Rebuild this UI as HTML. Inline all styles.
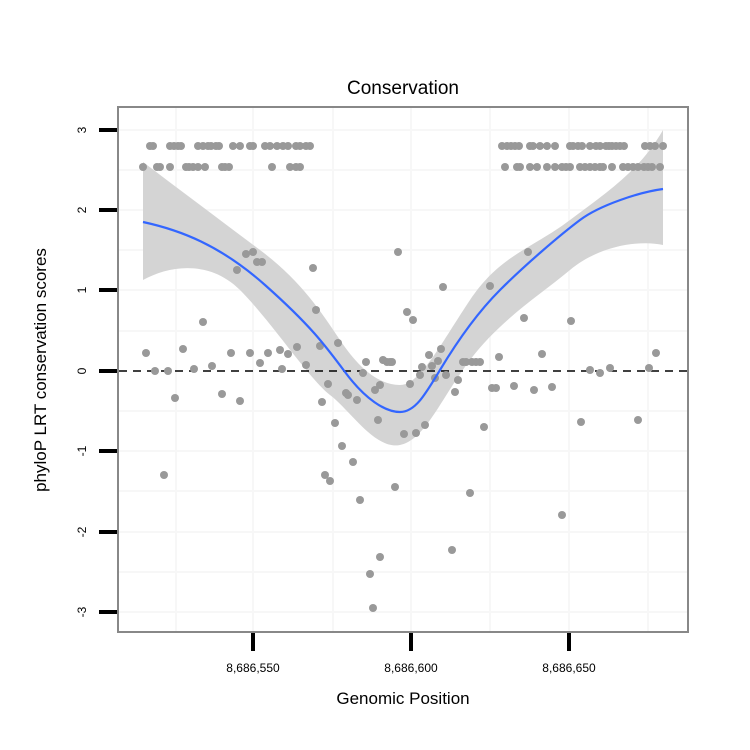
<!DOCTYPE html><html><head><style>body{margin:0;background:#fff}svg{display:block}text{font-family:"Liberation Sans",sans-serif}</style></head><body>
<svg width="750" height="750" xmlns="http://www.w3.org/2000/svg">
<rect width="750" height="750" fill="#fff"/>
<g stroke="#f7f7f7" stroke-width="2">
<line x1="176" y1="108" x2="176" y2="631"/><line x1="333" y1="108" x2="333" y2="631"/><line x1="490" y1="108" x2="490" y2="631"/><line x1="648" y1="108" x2="648" y2="631"/>
<line x1="253" y1="108" x2="253" y2="631"/><line x1="411" y1="108" x2="411" y2="631"/><line x1="569" y1="108" x2="569" y2="631"/>
<line x1="119" y1="130" x2="687" y2="130"/><line x1="119" y1="210" x2="687" y2="210"/><line x1="119" y1="290" x2="687" y2="290"/><line x1="119" y1="451" x2="687" y2="451"/><line x1="119" y1="532" x2="687" y2="532"/><line x1="119" y1="612" x2="687" y2="612"/>
<line x1="119" y1="170" x2="687" y2="170"/><line x1="119" y1="250" x2="687" y2="250"/><line x1="119" y1="331" x2="687" y2="331"/><line x1="119" y1="411" x2="687" y2="411"/><line x1="119" y1="491" x2="687" y2="491"/><line x1="119" y1="572" x2="687" y2="572"/>
</g>
<path d="M143,162 C180,190 220,220 260,250 S320,310 340,340 S380,385 400,385 S440,345 470,300 S530,250 570,220 S640,170 663,130 L663,245 C640,240 600,245 570,270 S500,320 470,360 S425,440 400,445 S350,410 330,395 S270,320 240,290 S170,265 143,280 Z" fill="#d4d4d4"/>
<line x1="119" y1="371" x2="687" y2="371" stroke="#000" stroke-width="1.6" stroke-dasharray="8,6"/>
<g fill="#999" id="p2"></g>
<path d="M143,222 C180,230 220,245 265,285 S325,345 345,372 S385,412 400,412 S425,395 440,370 S475,315 500,290 S560,235 580,220 S640,192 663,189" fill="none" stroke="#3366ff" stroke-width="2.2"/>
<rect x="118" y="107" width="570" height="525" fill="none" stroke="#888" stroke-width="2"/>
<g stroke="#000" stroke-width="4">
<line x1="99" y1="130" x2="117" y2="130"/><line x1="99" y1="210" x2="117" y2="210"/><line x1="99" y1="290" x2="117" y2="290"/><line x1="99" y1="371" x2="117" y2="371"/><line x1="99" y1="451" x2="117" y2="451"/><line x1="99" y1="532" x2="117" y2="532"/><line x1="99" y1="612" x2="117" y2="612"/>
<line x1="253" y1="633" x2="253" y2="651"/><line x1="411" y1="633" x2="411" y2="651"/><line x1="569" y1="633" x2="569" y2="651"/>
</g>
<g font-size="12" text-anchor="middle">
<text transform="translate(86,130) rotate(-90)">3</text><text transform="translate(86,210) rotate(-90)">2</text><text transform="translate(86,290) rotate(-90)">1</text><text transform="translate(86,371) rotate(-90)">0</text><text transform="translate(86,451) rotate(-90)">-1</text><text transform="translate(86,532) rotate(-90)">-2</text><text transform="translate(86,612) rotate(-90)">-3</text>
<text x="253" y="672">8,686,550</text><text x="411" y="672">8,686,600</text><text x="569" y="672">8,686,650</text>
</g>
<text x="403" y="704" font-size="17" text-anchor="middle">Genomic Position</text>
<text transform="translate(46,370) rotate(-90)" font-size="17" text-anchor="middle">phyloP LRT conservation scores</text>
<text x="403" y="94" font-size="19" text-anchor="middle">Conservation</text>
</svg>
<script>
var top1=[150,153,170,174,178,181,198,203,208,211,216,219,233,240,250,253,265,270,277,283,288,296,300,306,310,502,507,511,515,519,530,533,540,547,555,570,573,578,582,590,596,600,606,609,612,616,620,624,645,650,655,663];
var top2=[143,157,160,170,186,189,193,198,205,222,225,229,272,290,296,300,505,517,520,530,537,547,555,562,566,570,580,585,590,595,600,603,612,623,628,633,638,644,648,652,660];
var sc=[[146,353],[155,371],[164,475],[168,371],[175,398],[183,349],[194,369],[203,322],[212,366],[222,394],[231,353],[240,401],[237,270],[246,254],[253,252],[257,262],[262,262],[250,353],[260,363],[268,353],[280,350],[282,369],[288,354],[297,347],[306,365],[313,268],[316,310],[320,346],[322,402],[325,475],[330,481],[328,384],[335,423],[338,343],[342,446],[346,393],[348,395],[353,462],[357,400],[360,500],[363,373],[366,362],[370,574],[375,390],[378,420],[380,557],[383,360],[387,362],[390,362],[392,362],[395,487],[398,252],[404,434],[407,312],[410,384],[413,320],[416,433],[420,375],[422,367],[425,425],[429,355],[432,366],[435,378],[438,361],[441,349],[443,287],[446,375],[452,550],[455,392],[458,380],[463,362],[466,362],[470,493],[472,362],[476,362],[480,362],[484,427],[490,286],[492,388],[496,388],[499,357],[514,386],[524,318],[528,252],[534,390],[542,354],[552,387],[562,515],[571,321],[581,422],[590,370],[600,373],[610,368],[638,420],[649,368],[656,353],[373,608],[380,385]];
var g=document.getElementById('p2'),s='';
top1.forEach(function(x){s+='<circle cx="'+x+'" cy="146" r="4"/>';});
top2.forEach(function(x){s+='<circle cx="'+x+'" cy="167" r="4"/>';});
sc.forEach(function(p){s+='<circle cx="'+p[0]+'" cy="'+p[1]+'" r="4"/>';});
g.innerHTML=s;
</script>
</body></html>
